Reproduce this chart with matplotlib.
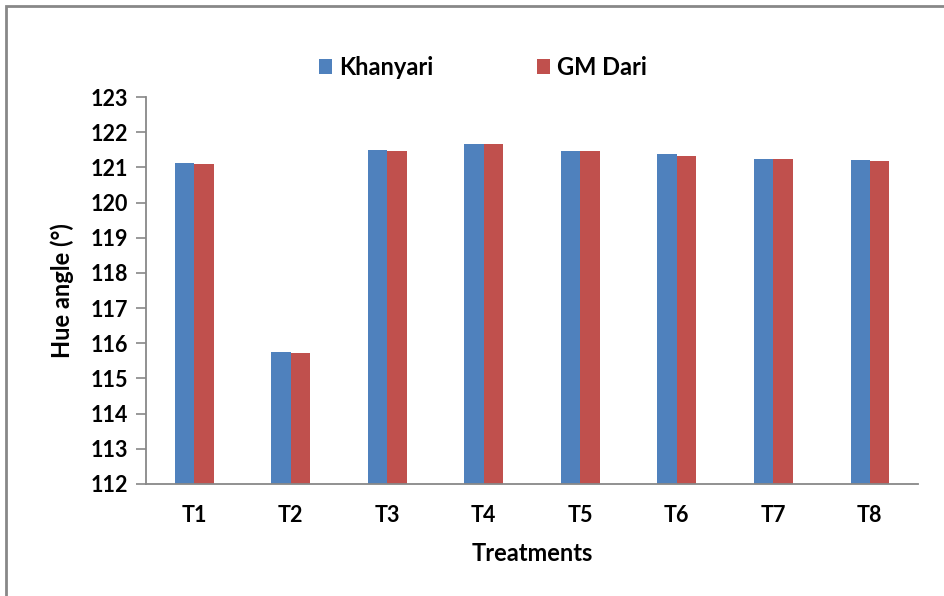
import numpy as np
import matplotlib.pyplot as plt
from matplotlib.patches import Rectangle

plt.rcParams['font.family'] = ['Lato', 'DejaVu Sans']
plt.rcParams['font.weight'] = 'bold'

treatments = ['T1', 'T2', 'T3', 'T4', 'T5', 'T6', 'T7', 'T8']
khanyari = [121.14, 115.75, 121.50, 121.68, 121.47, 121.37, 121.24, 121.20]
gm_dari = [121.10, 115.71, 121.47, 121.68, 121.47, 121.33, 121.24, 121.17]

fig = plt.figure(figsize=(9.45, 5.96), dpi=100)
ax = fig.add_axes([0.1545, 0.188, 0.817, 0.649])

x = np.arange(len(treatments))
w = 0.2
base = 112
ax.bar(x - w/2, np.array(khanyari) - base, w, bottom=base, color='#4F81BD', label='Khanyari')
ax.bar(x + w/2, np.array(gm_dari) - base, w, bottom=base, color='#C0504D', label='GM Dari')

ax.set_xlim(-0.5, len(treatments) - 0.5)
ax.set_ylim(112, 123)
ax.set_yticks(range(112, 124))
ax.set_xticks(x)
ax.set_xticklabels(treatments)
ax.tick_params(axis='x', length=0, pad=15, labelsize=15.5)
ax.tick_params(axis='y', length=7, width=1.2, color='#888888', pad=6, labelsize=15.5)

for s in ['top', 'right']:
    ax.spines[s].set_visible(False)
for s in ['left', 'bottom']:
    ax.spines[s].set_color('#888888')
    ax.spines[s].set_linewidth(1.3)

ax.set_xlabel('Treatments', fontsize=17, fontweight='bold', labelpad=12)
ax.set_ylabel('Hue angle (°)', fontsize=17, fontweight='bold', labelpad=12)

leg = fig.legend(loc='center', bbox_to_anchor=(0.511, 0.887), ncol=2, frameon=False,
                 fontsize=17, handlelength=0.55, handleheight=0.55, columnspacing=4.4,
                 handletextpad=0.3)

# outer chart frame
fig.add_artist(Rectangle((0.006, -0.05), 1.1, 1.04, transform=fig.transFigure,
                         fill=False, edgecolor='#888888', linewidth=2))

fig.savefig('out.png', dpi=100)
